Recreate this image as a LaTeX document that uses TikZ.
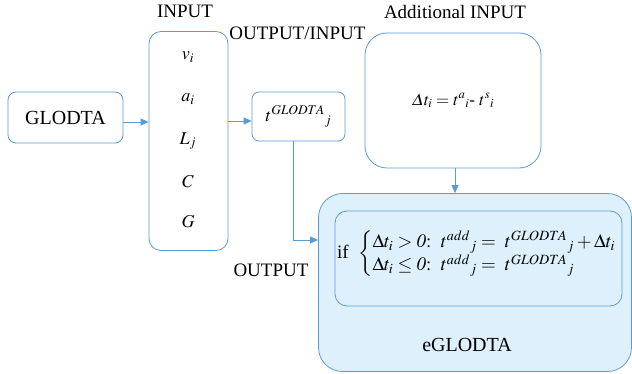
\documentclass[tikz,border=0pt]{standalone}
\usepackage{amsmath}
\usepackage{mathptmx}
\usepackage[no-math]{fontspec}
\setmainfont{Liberation Serif}
\newfontfamily\tnr{Liberation Serif}
\usetikzlibrary{arrows.meta}
\definecolor{bl}{RGB}{91,155,213}
\definecolor{lb}{RGB}{222,240,252}
\begin{document}
\begin{tikzpicture}[x=1pt,y=-1pt,
  box/.style={draw=bl, line width=0.8pt, rounded corners=#1, inner sep=0pt},
  box/.default=8pt,
  arr/.style={draw=bl, line width=0.8pt, -{Triangle[length=8pt,width=7pt]}},
  lbl/.style={font=\tnr\fontsize{19}{22}\selectfont, inner sep=0pt},
  var/.style={font=\tnr\fontsize{18}{20}\selectfont, inner sep=0pt}]
\path[use as bounding box] (0,0) rectangle (632,374);
% boxes
\node[box=8pt, minimum width=115pt, minimum height=51pt, font=\tnr\fontsize{20}{24}\selectfont] (glodta) at (65.5,117.5) {GLODTA};
\node[box=12pt, minimum width=79pt, minimum height=219pt] (inp) at (188.5,141) {};
\node[var] (vi) at (188,57) {$v_i$};
\node[var] (ai) at (188,99) {$a_i$};
\node[var] (lj) at (188,141) {$L_j$};
\node[var] (cc) at (188,182) {$C$};
\node[var] (gg) at (188,222) {$G$};
\node[box=7pt, minimum width=93pt, minimum height=49pt, font=\tnr\fontsize{18}{20}\selectfont] (tg) at (298.5,116.5) {$t^{GLODTA}{}_j$};
\node[box=22pt, minimum width=176pt, minimum height=135pt, font=\tnr\fontsize{17}{20}\selectfont] (add) at (453,100.5) {$\varDelta t_i = t^{a}{}_i\text{- }t^{s}{}_i$};
\node[box=24pt, fill=lb, minimum width=313pt, minimum height=178pt] (eg) at (475,282.5) {};
\node[box=12pt, fill=lb, minimum width=287pt, minimum height=95pt] (inner) at (478.5,258.5) {};
\node[anchor=west, inner sep=0pt, font=\tnr\fontsize{19}{22}\selectfont] (formula) at (337,254)
  {if\ \ $\begin{cases}\Delta t_i > \mathit{0{:}}\ \ t^{add}{}_j =\ t^{GLODTA}{}_j + \Delta t_i\\[-3pt]
  \Delta t_i \leq \mathit{0{:}}\ \ t^{add}{}_j =\ t^{GLODTA}{}_j\end{cases}$};
\node[lbl, font=\tnr\fontsize{20}{24}\selectfont] (eglbl) at (467,345) {eGLODTA};
% labels
\node[lbl] (lin) at (185,11) {INPUT};
\node[lbl] (lio) at (297.5,33.5) {OUTPUT/INPUT};
\node[lbl] (ladd) at (455,12) {Additional INPUT};
\node[lbl] (lout) at (271,270.5) {OUTPUT};
% connectors
\draw[arr] ([yshift=-4.5pt]glodta.east) -- ([yshift=-4.5pt]glodta.east -| inp.west);
\draw[arr] ([yshift=-4.5pt]inp.east |- tg.west) -- ([yshift=-4.5pt]tg.west);
\draw[arr] ([xshift=-5.5pt]tg.south) |- ([yshift=42.5pt]eg.west);
\draw[arr] (add.south) ++(2pt,0) coordinate (as) -- (as |- eg.north);
\end{tikzpicture}
\end{document}
